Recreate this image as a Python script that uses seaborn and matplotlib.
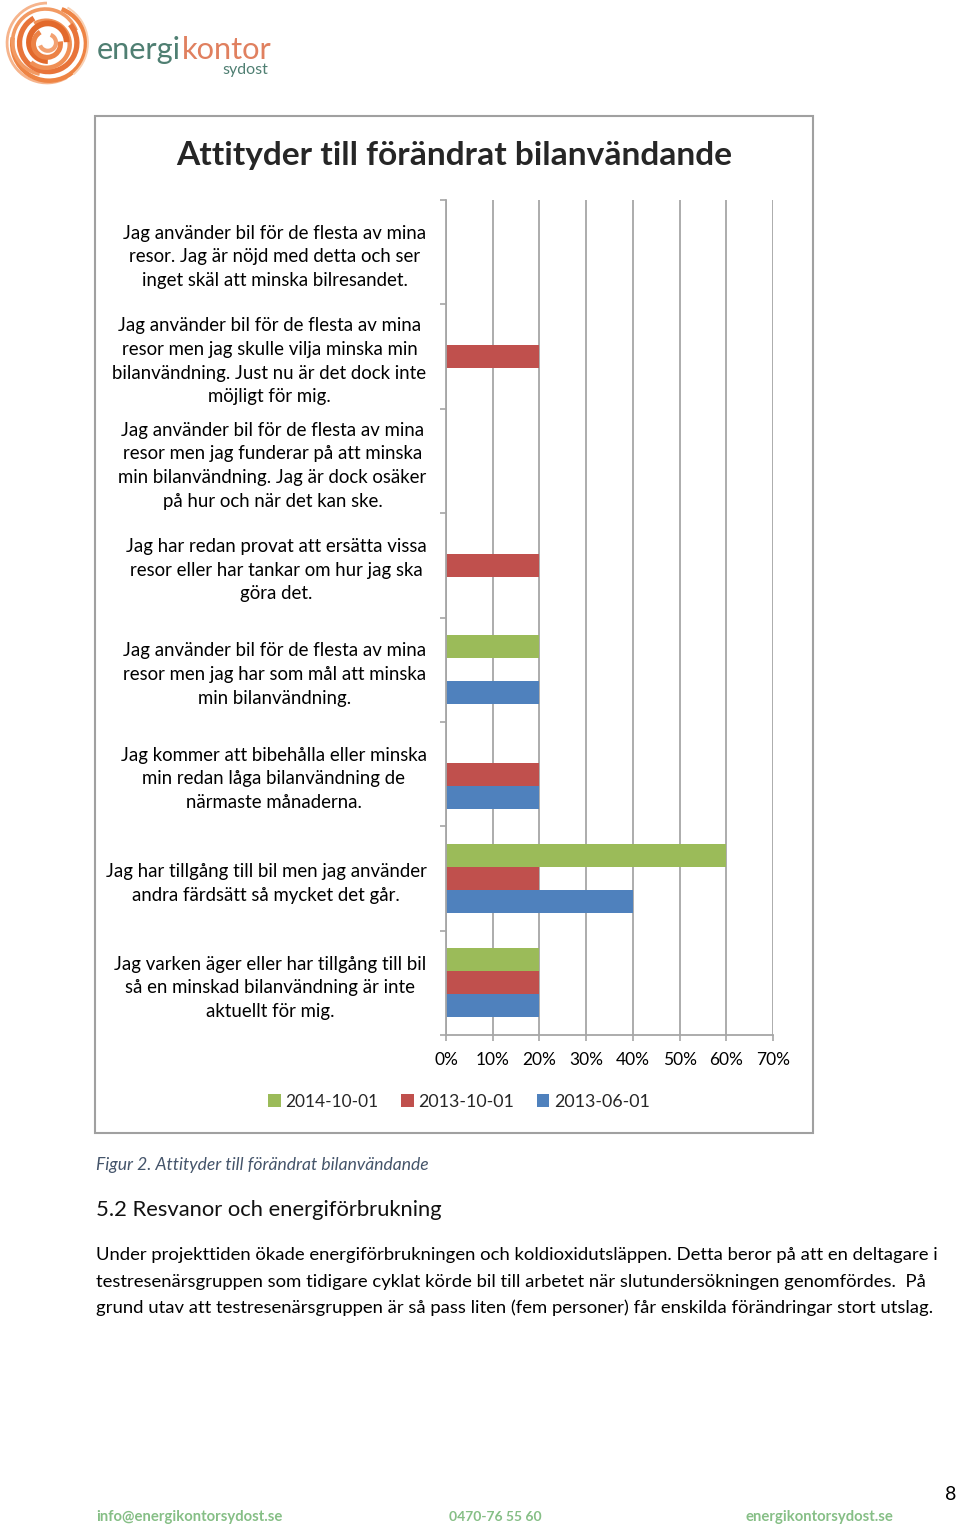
import matplotlib
matplotlib.use("Agg")
import matplotlib.pyplot as plt
import seaborn as sns
import pandas as pd
import numpy as np
from matplotlib.patches import Rectangle, Arc, Patch

# ---------------- data ----------------
categories = [
    "Jag använder bil för de flesta av mina\nresor. Jag är nöjd med detta och ser\ninget skäl att minska bilresandet.",
    "Jag använder bil för de flesta av mina\nresor men jag skulle vilja minska min\nbilanvändning. Just nu är det dock inte\nmöjligt för mig.",
    "Jag använder bil för de flesta av mina\nresor men jag funderar på att minska\nmin bilanvändning. Jag är dock osäker\npå hur och när det kan ske.",
    "Jag har redan provat att ersätta vissa\nresor eller har tankar om hur jag ska\ngöra det.",
    "Jag använder bil för de flesta av mina\nresor men jag har som mål att minska\nmin bilanvändning.",
    "Jag kommer att bibehålla eller minska\nmin redan låga bilanvändning de\nnärmaste månaderna.",
    "Jag har tillgång till bil men jag använder\nandra färdsätt så mycket det går.",
    "Jag varken äger eller har tillgång till bil\nså en minskad bilanvändning är inte\naktuellt för mig.",
]
series = ["2014-10-01", "2013-10-01", "2013-06-01"]
values_2014_10 = [0, 0, 0, 0, 20, 0, 60, 20]
values_2013_10 = [0, 20, 0, 20, 0, 20, 20, 20]
values_2013_06 = [0, 0, 0, 0, 20, 20, 40, 20]
x_ticks = [0, 10, 20, 30, 40, 50, 60, 70]
x_tick_labels = ["0%", "10%", "20%", "30%", "40%", "50%", "60%", "70%"]
colors = ["#9bbb59", "#c0504d", "#4f81bd"]

title = "Attityder till förändrat bilanvändande"
caption = "Figur 2. Attityder till förändrat bilanvändande"
heading = "5.2 Resvanor och energiförbrukning"
paragraph = [
    "Under projekttiden ökade energiförbrukningen och koldioxidutsläppen. Detta beror på att en deltagare i",
    "testresenärsgruppen som tidigare cyklat körde bil till arbetet när slutundersökningen genomfördes.  På",
    "grund utav att testresenärsgruppen är så pass liten (fem personer) får enskilda förändringar stort utslag.",
]
footer = ["info@energikontorsydost.se", "0470-76 55 60", "energikontorsydost.se"]
page_number = "8"

# ---------------- setup ----------------
sns.set_theme(style="white")
plt.rcParams["font.family"] = ["Lato", "DejaVu Sans"]

W, H = 960, 1531
fig = plt.figure(figsize=(W / 100, H / 100), dpi=100)
fig.patch.set_facecolor("white")


def fx(x):
    return x / W


def fy(y):
    return 1 - y / H


rows = []
for s, vals in zip(series, [values_2014_10, values_2013_10, values_2013_06]):
    for c, v in zip(categories, vals):
        rows.append({"category": c, "series": s, "value": v})
df = pd.DataFrame(rows)

ax = fig.add_axes([fx(446), fy(1035), 327 / W, 835 / H])
sns.barplot(data=df, x="value", y="category", hue="series", hue_order=series,
            order=categories, palette=colors, orient="h", width=0.66,
            saturation=1, linewidth=0, legend=False, ax=ax)

grid_c = "#a6a6a6"
ax.set_xlim(0, 70)
ax.set_ylim(7.5, -0.5)
ax.set_xticks(x_ticks)
ax.set_xticklabels(x_tick_labels)
ax.set_yticks(range(len(categories)))
ax.set_yticklabels(categories)
ax.set_yticks(np.arange(-0.5, len(categories), 1), minor=True)
ax.tick_params(axis="y", which="major", length=0, pad=14, labelcolor="black")
ax.tick_params(axis="y", which="minor", length=4, width=1.2, color=grid_c, left=True, direction="out")
ax.tick_params(axis="x", which="major", length=4, width=1.2, color=grid_c, bottom=True, pad=8,
               labelcolor="black", direction="out")
ax.set_xlabel("")
ax.set_ylabel("")
ax.grid(axis="x", color=grid_c, linewidth=1.3)
ax.grid(axis="y", visible=False)
ax.set_axisbelow(True)
for sp in ["top", "right"]:
    ax.spines[sp].set_visible(False)
for sp in ["left", "bottom"]:
    ax.spines[sp].set_color(grid_c)
    ax.spines[sp].set_linewidth(1.3)

for t in ax.get_yticklabels():
    t.set_multialignment("center")
    t.set_linespacing(1.47)

# chart frame
fig.add_artist(Rectangle((fx(95), fy(1133)), (813 - 95) / W, (1133 - 116) / H,
                         transform=fig.transFigure, fill=False, edgecolor="#a0a0a0", linewidth=1.5))

# title
t_title = fig.text(fx(454), fy(155), title, ha="center", va="center", fontsize=22, fontweight="bold")

# legend
handles = [Patch(facecolor=c, edgecolor="none") for c in colors]
leg = fig.legend(handles, series, loc="center", bbox_to_anchor=(fx(459), fy(1102)), ncol=3,
                 frameon=False, handlelength=0.7, handleheight=0.7, handletextpad=0.25,
                 columnspacing=1.25, fontsize=13)

# caption, heading, paragraph
t_cap = fig.text(fx(96), fy(1165), caption, ha="left", va="center", fontsize=11,
                 fontstyle="italic", color="#44546a")
t_head = fig.text(fx(96), fy(1210), heading, ha="left", va="center", fontsize=15, color="#111111")
para_y = [1255, 1282, 1308]
t_para = [fig.text(fx(96), fy(y), line, ha="left", va="center", fontsize=12.5, color="black")
          for y, line in zip(para_y, paragraph)]

# footer
foot_c = "#86bf86"
t_f = [
    fig.text(fx(96), fy(1517), footer[0], ha="left", va="center", fontsize=10.5, color=foot_c, fontweight="bold"),
    fig.text(fx(449), fy(1517), footer[1], ha="left", va="center", fontsize=10.5, color=foot_c, fontweight="bold"),
    fig.text(fx(745), fy(1517), footer[2], ha="left", va="center", fontsize=10.5, color=foot_c, fontweight="bold"),
]
fig.text(fx(951), fy(1494), page_number, ha="center", va="center", fontsize=14, color="black")

# logo: swirl drawn from arcs
lax = fig.add_axes([fx(3), fy(86), 88 / W, 86 / H])
lax.set_xlim(-1.05, 1.05)
lax.set_ylim(-1.05, 1.05)
lax.set_aspect("equal")
lax.axis("off")
arc_specs = [
    # (cx, cy, diameter, theta1, theta2, colour, linewidth)
    (0.00, 0.00, 1.95, 90, 300, "#f6b48c", 2.0),
    (0.05, -0.02, 1.80, 170, 430, "#ee8444", 3.2),
    (-0.04, 0.03, 1.60, 20, 260, "#f29a63", 2.6),
    (0.03, 0.00, 1.40, 120, 400, "#e8743a", 3.8),
    (-0.02, -0.03, 1.15, 230, 480, "#f08f55", 3.2),
    (0.02, 0.02, 0.92, 0, 270, "#e2692c", 4.2),
    (0.00, -0.02, 0.66, 120, 370, "#ec8246", 3.6),
    (0.02, 0.01, 0.40, 200, 430, "#f3a171", 3.0),
    (0.00, 0.00, 2.00, 310, 420, "#f9d0b2", 1.4),
]
for cx, cy, d, a0, a1, c, lw in arc_specs:
    lax.add_patch(Arc((cx, cy), d, d, theta1=a0, theta2=a1, color=c, linewidth=lw))

t_e = fig.text(fx(97), fy(59), "energi", ha="left", va="baseline", fontsize=19,
               fontweight="normal", color="#4f7f72")
t_k = fig.text(fx(200), fy(59), "kontor", ha="left", va="baseline", fontsize=19,
               fontweight="normal", color="#e0805f")
t_s = fig.text(fx(268), fy(74), "sydost", ha="right", va="baseline", fontsize=10,
               fontweight="normal", color="#4f7f72")

fig.canvas.draw()
r = fig.canvas.get_renderer()


def width(t):
    return t.get_window_extent(r).width


def fit(t, target):
    t.set_fontsize(t.get_fontsize() * target / width(t))


# fit text sizes to the reference widths
fit(t_title, 554)
fit(t_cap, 331)
fit(t_head, 347)
fit(t_para[0], 843)
for t in t_para[1:]:
    t.set_fontsize(t_para[0].get_fontsize())
for t, wt in zip(t_f, [188, 93, 148]):
    fit(t, wt)

ylabels = ax.get_yticklabels()
scale = 307 / width(ylabels[5])
ysize = ylabels[5].get_fontsize() * scale
for t in ylabels:
    t.set_fontsize(ysize)

xl = ax.get_xticklabels()
xsize = xl[1].get_fontsize() * 34 / width(xl[1])
for t in xl:
    t.set_fontsize(xsize)

for t in leg.get_texts():
    t.set_fontsize(t.get_fontsize() * 92 / width(leg.get_texts()[0]))

# logo word: one size for both halves, total width as in the reference
logo_scale = 175 / (width(t_e) + width(t_k))
for t in (t_e, t_k):
    t.set_fontsize(t.get_fontsize() * logo_scale)
fit(t_s, 46)
fig.canvas.draw()
bb = t_e.get_window_extent(r)
t_k.set_x((bb.x1 + 0.5) / W)

fig.savefig("out.png", dpi=100, facecolor="white")
